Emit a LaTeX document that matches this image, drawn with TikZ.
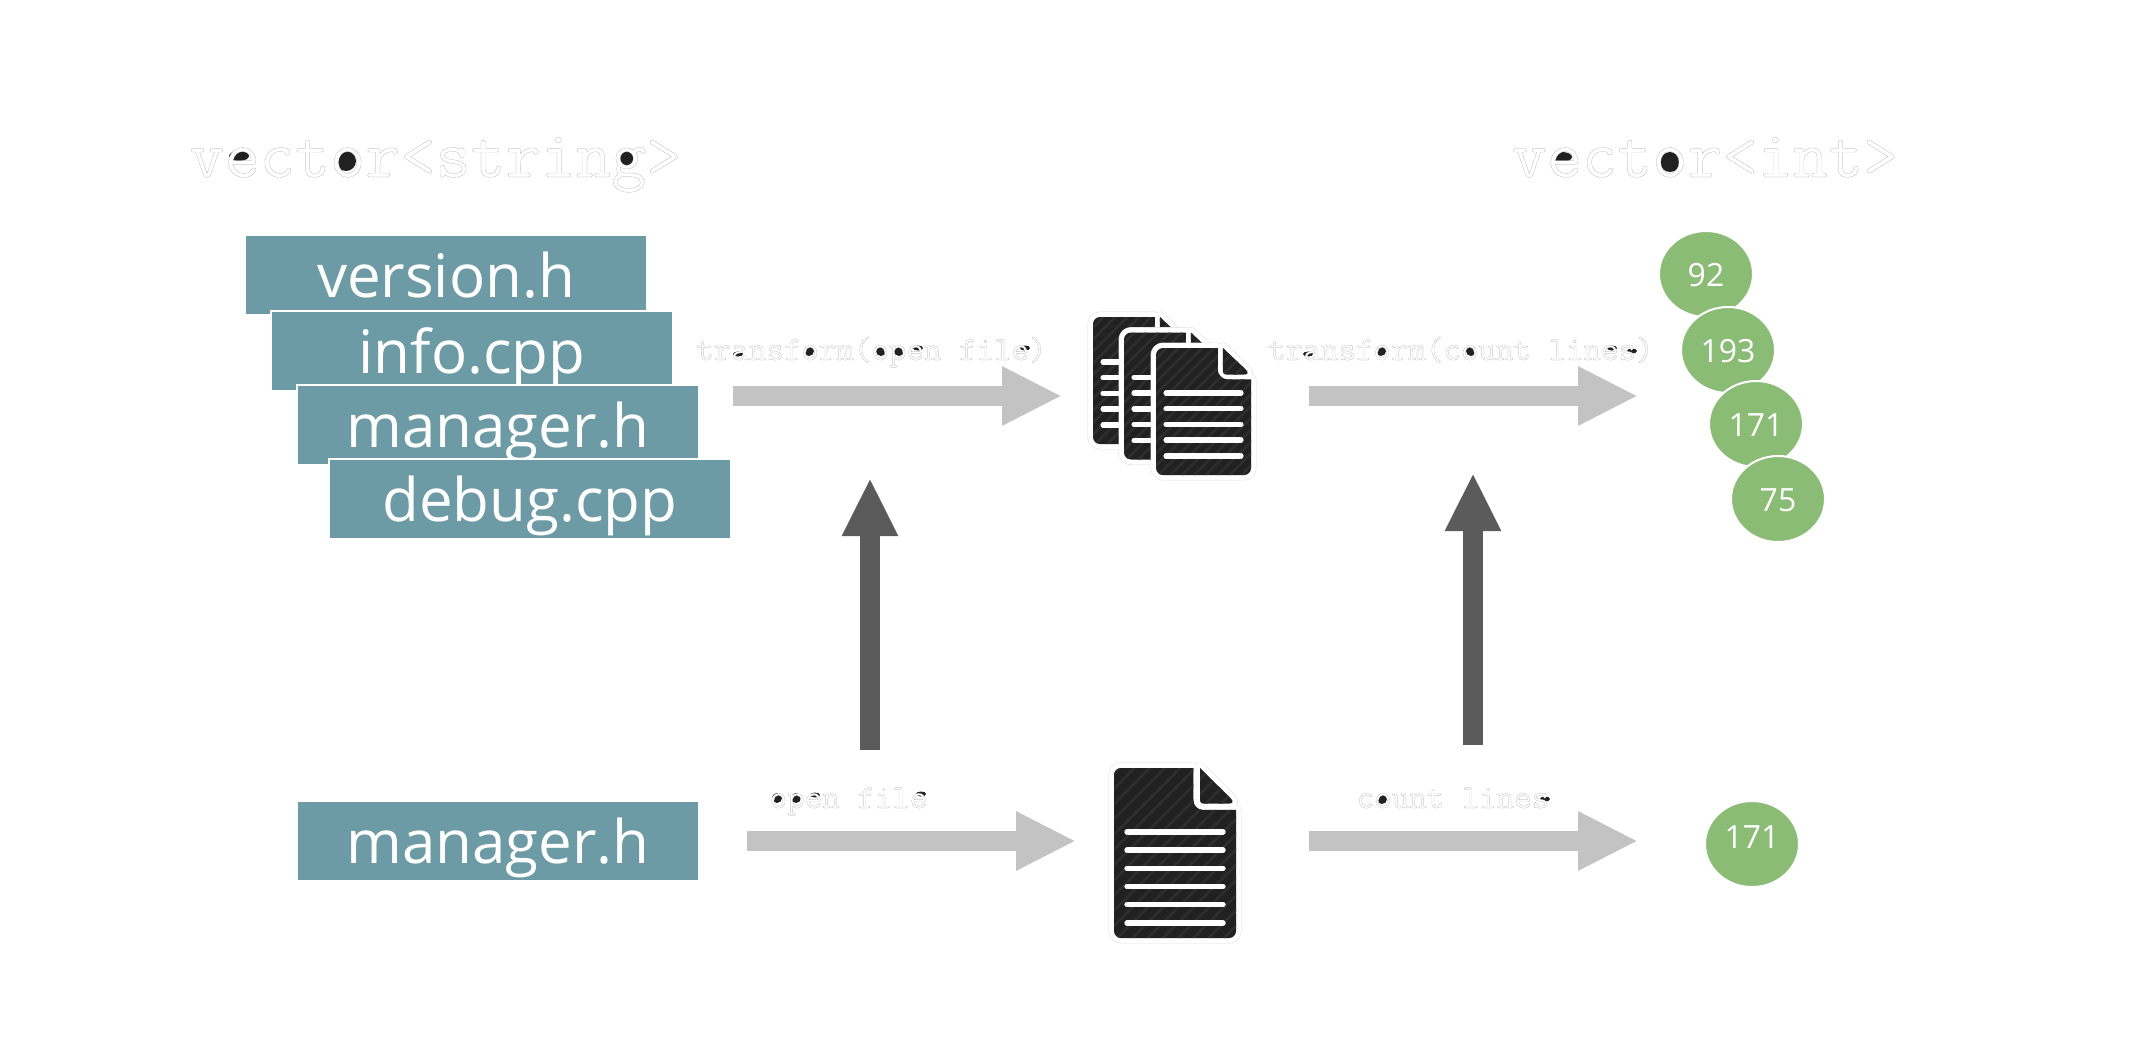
\documentclass[tikz,border=0pt]{standalone}
\usepackage{fontspec}
\setmainfont{Open Sans}
\newfontfamily\titlefont{Latin Modern Mono}[FakeBold=0.25,FakeStretch=1.023]
\newfontfamily\labelfont{Latin Modern Mono}[FakeBold=0.4,FakeStretch=1.015]
\usetikzlibrary{positioning,arrows.meta,shapes.geometric}
\definecolor{boxteal}{HTML}{6C9BA6}
\definecolor{circgreen}{HTML}{8ABC75}
\definecolor{arrowlight}{HTML}{C3C3C3}
\definecolor{arrowdark}{HTML}{5B5B5B}
\definecolor{docdark}{HTML}{212121}
\definecolor{docstripe}{HTML}{2E2E2E}
\newcommand{\hollow}{\special{pdf:code 1 g 0.62 G}}
\newcommand{\docshape}{(0,.5) [rounded corners=7pt] -- (0,0) [sharp corners] -- (.65,0) [rounded corners=10pt] -- (.65,.247) [sharp corners] -- (1,.247) [rounded corners=7pt] -- (1,1) -- (0,1) -- cycle}
\newcommand{\docfold}{(.705,0) -- (1,.209) [rounded corners=3pt] -- (.705,.209) [sharp corners] -- cycle}
\newcommand{\docpage}[4]{%
    \begin{scope}[shift={(#1.north west)},x=#2pt,y=-#3pt]
        \draw[gray!30,line width=10.8pt,line join=round] \docshape \docfold;
        \draw[white,line width=10pt,line join=round,fill=white] \docshape \docfold;
        \fill[docdark] \docshape \docfold;
        \begin{scope}
            \clip \docshape \docfold;
            \foreach \s in {-1.6,-1.475,...,1.1}
                \draw[docstripe,line width=2.5pt] (\s,1) -- ({\s+#3/#2},0);
        \end{scope}
        \foreach \ly in {#4}
            \draw[white,line width=5.5pt,line cap=round] (.107,\ly) -- (.893,\ly);
    \end{scope}}

\begin{document}
\begin{tikzpicture}
                [x=1pt,y=-1pt,
                filebox/.style={rectangle,draw=white,fill=boxteal,line width=2pt,text=white,
                    minimum width=402pt,minimum height=80pt,inner sep=0pt,
                    text height=45pt,text depth=0pt,font=\fontsize{60}{60}\selectfont},
                numcirc/.style={ellipse,draw=white,fill=circgreen,line width=2pt,text=white,
                    minimum width=94pt,minimum height=86pt,inner sep=0pt,
                    text height=25pt,text depth=0pt,font=\fontsize{32}{32}\selectfont},
                title/.style={anchor=base,inner sep=0pt,font=\titlefont\fontsize{66.7}{66.7}\selectfont},
                oplabel/.style={anchor=base,inner sep=0pt,font=\labelfont\fontsize{33.5}{33.5}\selectfont},
                docnode/.style={rectangle,inner sep=0pt,outer sep=0pt},
                flow/.style={arrowlight,line width=20pt,-{Triangle[length=60pt,width=55pt]}},
                lift/.style={arrowdark,line width=20pt,-{Triangle[length=58pt,width=52pt]}},
                counter/.style={fill=docdark}]
                \useasboundingbox (0,0) rectangle (2134,1044);
                % dark counters of the code letters
                \foreach \x/\y in {346/161,1670/162}
                    \fill[counter] (\x,\y) circle[radius=10pt];
                \fill[counter] (626,159) circle[radius=8pt];
                \foreach \x/\y in {239/156,1562/157}
                    \fill[counter] (\x,\y) ellipse[x radius=10pt,y radius=5pt];
                \foreach \x/\y in {809/351,881/351,899/351,1381/351,1471/351,777/798,796/798,1382/799}
                    \fill[counter] (\x,\y) circle[radius=5pt];
                \foreach \x/\y in {738/354,918/348,1025/348,1308/354,1612/348,1632/351,815/795,921/794,1545/799}
                    \fill[counter] (\x,\y) ellipse[x radius=5pt,y radius=2.5pt];
                % left column
                \node[filebox] (version) at (446,275){version.h};
                \node[filebox,xshift=26pt] (info)[below=-6pt of version]{info.cpp};
                \node[filebox,xshift=26pt] (manager)[below=-8pt of info]{manager.h};
                \node[filebox,xshift=32pt] (debug)[below=-8pt of manager]{debug.cpp};
                \node[filebox] (onefile) at (498,841){manager.h};
                % middle column
                \node[docnode,minimum width=95pt,minimum height=127pt] (backdoc) at (1140.5,380.5){};
                \node[docnode,minimum width=95pt,minimum height=127pt] (middoc) at (1171.5,396){};
                \node[docnode,minimum width=95pt,minimum height=127pt] (frontdoc) at (1203.5,411.5){};
                \node[docnode,minimum width=122pt,minimum height=170pt] (onedoc) at (1175,853){};
                \docpage{backdoc}{95}{127}{.354,.478,.602,.724,.85}
                \docpage{middoc}{95}{127}{.354,.478,.602,.724,.85}
                \docpage{frontdoc}{95}{127}{.354,.478,.602,.724,.85}
                \docpage{onedoc}{122}{170}{.376,.483,.59,.697,.804,.912}
                % right column
                \node[numcirc] (ninetytwo) at (1706,274){92};
                \node[numcirc] (onenine) at (1728,350){193};
                \node[numcirc] (oneseven) at (1756,424){171};
                \node[numcirc] (seventyfive) at (1778,499){75};
                \node[numcirc,text depth=16pt] (onecount) at (1752,844){171};
                % titles and labels
                \node[title] (strtitle) at (435.5,177){\hollow vector<string>};
                \node[title] (inttitle) at (1705,177){\hollow vector<int>};
                \node[oplabel] (mapopen) at (871.5,360){\hollow transform(open file)};
                \node[oplabel] (mapcount) at (1461,360){\hollow transform(count lines)};
                \node[oplabel] (openlabel) at (848.5,808){\hollow open file};
                \node[oplabel] (countlabel) at (1453,808){\hollow count lines};
                % arrows
                \coordinate (stackout) at (733,396);
                \coordinate (stackin) at (1062,396);
                \coordinate (docsout) at (1309,396);
                \coordinate (countsin) at (1638,396);
                \coordinate (openfrom) at (870,750);
                \coordinate (opento) at (870,478);
                \coordinate (countfrom) at (1473,745);
                \coordinate (countto) at (1473,473);
                \draw[flow] (stackout) -- (stackin);
                \draw[flow] (docsout) -- (countsin);
                \draw[flow,shorten <=47pt,shorten >=38pt] (onefile.east) -- (onefile.east -| onedoc.west);
                \draw[flow,shorten <=73pt,shorten >=66pt] (onedoc.east |- onefile.east) -- (onefile.east -| onecount.west);
                \draw[lift] (openfrom) -- (opento);
                \draw[lift] (countfrom) -- (countto);
            \end{tikzpicture}
\end{document}
